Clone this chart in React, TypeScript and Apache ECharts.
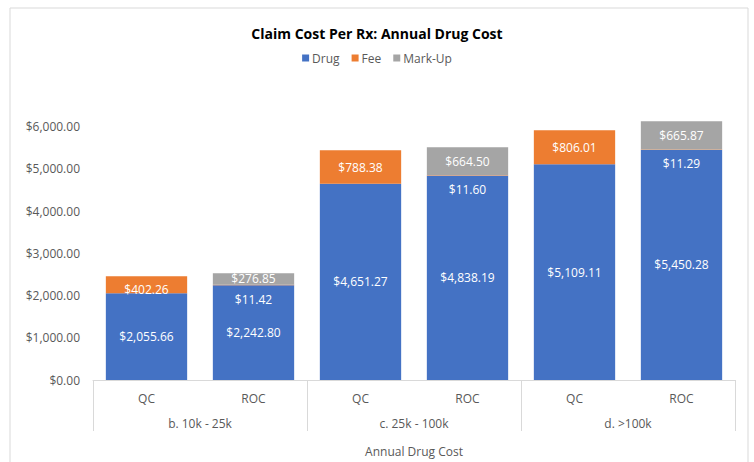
import React, { useEffect, useRef } from "react";
import * as echarts from "echarts";

const categories = ["QC", "ROC", "QC", "ROC", "QC", "ROC"];
const groups = ["b. 10k - 25k", "c. 25k - 100k", "d. >100k"];
const drug = [2055.66, 2242.8, 4651.27, 4838.19, 5109.11, 5450.28];
const fee = [402.26, 11.42, 788.38, 11.6, 806.01, 11.29];
const markup = [null, 276.85, null, 664.5, null, 665.87];
const totals = [2457.93, 2531.06, 5439.65, 5514.3, 5915.12, 6127.44];
const feeLabelShift = [5, 14, 0, 14, 0, 14];

const FONT = "Open Sans";
const GRAY = "#595959";

const money = (v: number) =>
  "$" + v.toLocaleString("en-US", { minimumFractionDigits: 2, maximumFractionDigits: 2 });

export default function App() {
  const ref = useRef<HTMLDivElement>(null);
  useEffect(() => {
    if (!ref.current) return;
    const chart = echarts.init(ref.current, undefined, { renderer: "svg" });
    const inLabel = {
      show: true,
      position: "inside",
      color: "#ffffff",
      fontSize: 12,
      fontFamily: FONT,
      formatter: (p: any) => (p.value == null ? "" : money(p.value)),
    };
    chart.setOption({
      animation: false,
      backgroundColor: "#ffffff",
      textStyle: { fontFamily: FONT },
      graphic: [
        {
          type: "rect",
          shape: { x: 10, y: 8, width: 738, height: 480 },
          style: { fill: "none", stroke: "#d9d9d9", lineWidth: 1 },
          silent: true,
        },
      ],
      title: {
        text: "Claim Cost Per Rx: Annual Drug Cost",
        left: "center",
        top: 21,
        textStyle: { fontFamily: FONT, fontWeight: "bold", fontSize: 14, color: "#000000" },
      },
      legend: {
        data: ["Drug", "Fee", "Mark-Up"],
        top: 47,
        left: "center",
        icon: "rect",
        itemWidth: 7,
        itemHeight: 7,
        itemGap: 12,
        textStyle: { fontFamily: FONT, fontSize: 12, color: GRAY, padding: [0, 0, 0, -2] },
      },
      grid: { left: 93, right: 19, top: 84.5, bottom: 80 },
      yAxis: {
        type: "value",
        min: 0,
        max: 7000,
        interval: 1000,
        axisLine: { show: false },
        axisTick: { show: false },
        splitLine: { show: false },
        axisLabel: {
          showMaxLabel: false,
          margin: 13,
          color: GRAY,
          fontSize: 12,
          fontFamily: FONT,
          formatter: (v: number) => money(v),
        },
      },
      xAxis: [
        {
          type: "category",
          data: categories,
          position: "bottom",
          axisLine: { show: true, lineStyle: { color: "#d9d9d9" } },
          axisTick: { show: false },
          axisLabel: { color: GRAY, fontSize: 12, fontFamily: FONT, margin: 12 },
        },
        {
          type: "category",
          data: groups,
          position: "bottom",
          axisLine: { show: false },
          axisTick: { show: true, length: 51, lineStyle: { color: "#d9d9d9" } },
          axisLabel: { color: GRAY, fontSize: 12, fontFamily: FONT, margin: 37 },
          name: "Annual Drug Cost",
          nameLocation: "middle",
          nameGap: 65,
          nameTextStyle: { color: GRAY, fontSize: 12, fontFamily: FONT },
        },
      ],
      series: [
        {
          name: "Drug",
          type: "bar",
          stack: "total",
          xAxisIndex: 0,
          barCategoryGap: "24%",
          itemStyle: { color: "#4472C4" },
          label: inLabel,
          data: drug,
        },
        {
          name: "Fee",
          type: "bar",
          stack: "total",
          xAxisIndex: 0,
          itemStyle: { color: "#ED7D31" },
          label: inLabel,
          data: fee.map((v, i) => ({ value: v, label: { offset: [0, feeLabelShift[i]] } })),
        },
        {
          name: "Mark-Up",
          type: "bar",
          stack: "total",
          xAxisIndex: 0,
          itemStyle: { color: "#A5A5A5" },
          label: inLabel,
          data: markup,
        },
        {
          name: "Total",
          type: "scatter",
          xAxisIndex: 0,
          symbolSize: 0.1,
          itemStyle: { opacity: 0 },
          label: {
            show: true,
            position: "top",
            distance: 9,
            color: "#404040",
            fontWeight: "bold",
            fontSize: 12,
            fontFamily: FONT,
            formatter: (p: any) => money(p.value),
          },
          data: totals,
        },
      ],
    });
    return () => chart.dispose();
  }, []);
  return (
    <div
      ref={ref}
      style={{ position: "fixed", left: 0, top: 0, width: 754, height: 462 }}
    />
  );
}
